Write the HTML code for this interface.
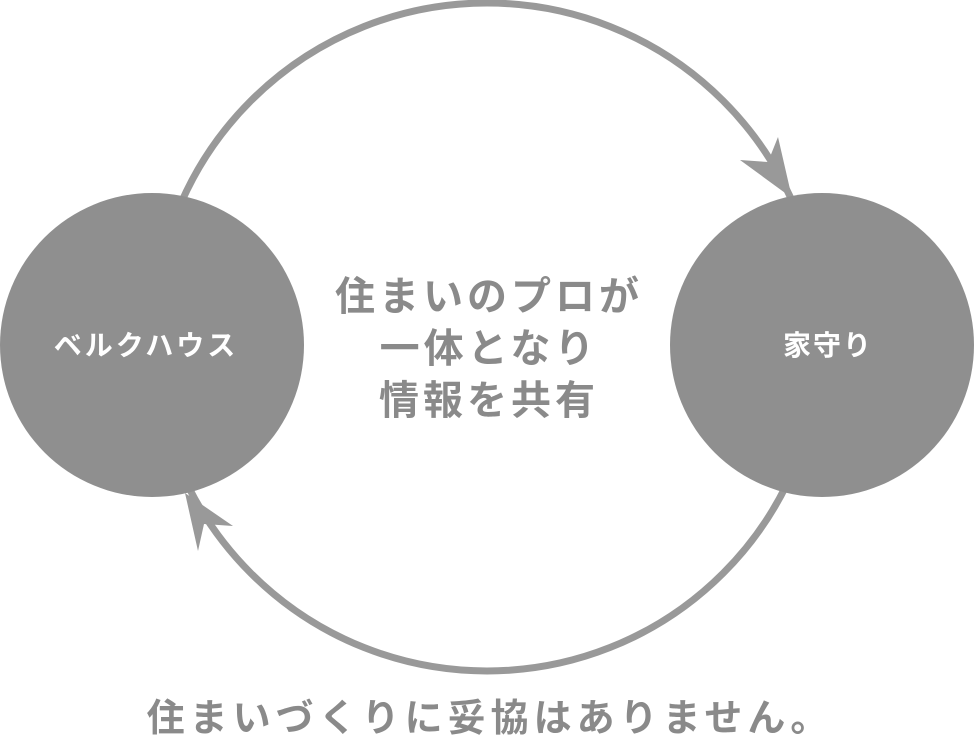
<!DOCTYPE html>
<html><head><meta charset="utf-8"><style>
body{margin:0;width:974px;height:745px;background:#fff;overflow:hidden;position:relative;font-family:"Liberation Sans","Noto Sans CJK JP",sans-serif}
.t{position:absolute;left:0;width:974px;text-align:center;color:#8a8a8a;font-weight:bold;white-space:nowrap}
</style></head><body>
<svg width="974" height="745" style="position:absolute;left:0;top:0">
<circle cx="487" cy="337" r="334" fill="none" stroke="#999" stroke-width="7"/>
<polygon points="792,198 740,160 768,162 778,137" fill="#999"/>
<polygon points="185,493 198,551 204,524 233,526" fill="#999"/>
<circle cx="152" cy="345" r="152" fill="#8f8f8f"/>
<circle cx="822" cy="345" r="152" fill="#8f8f8f"/>
<text x="146" y="355" fill="#fff" font-size="28" letter-spacing="3" font-weight="bold" text-anchor="middle" font-family="Liberation Sans, Noto Sans CJK JP, sans-serif">ベルクハウス</text>
<text x="828" y="355" fill="#fff" font-size="28" letter-spacing="2" font-weight="bold" text-anchor="middle" font-family="Liberation Sans, Noto Sans CJK JP, sans-serif">家守り</text>
</svg>
<div class="t" style="top:271px;font-size:40px;line-height:52px;letter-spacing:4px;left:2px">住まいのプロが<br>一体となり<br>情報を共有</div>
<div class="t" style="top:696px;font-size:38px;line-height:46px;letter-spacing:5px;left:3px">住まいづくりに妥協はありません。</div>
</body></html>
